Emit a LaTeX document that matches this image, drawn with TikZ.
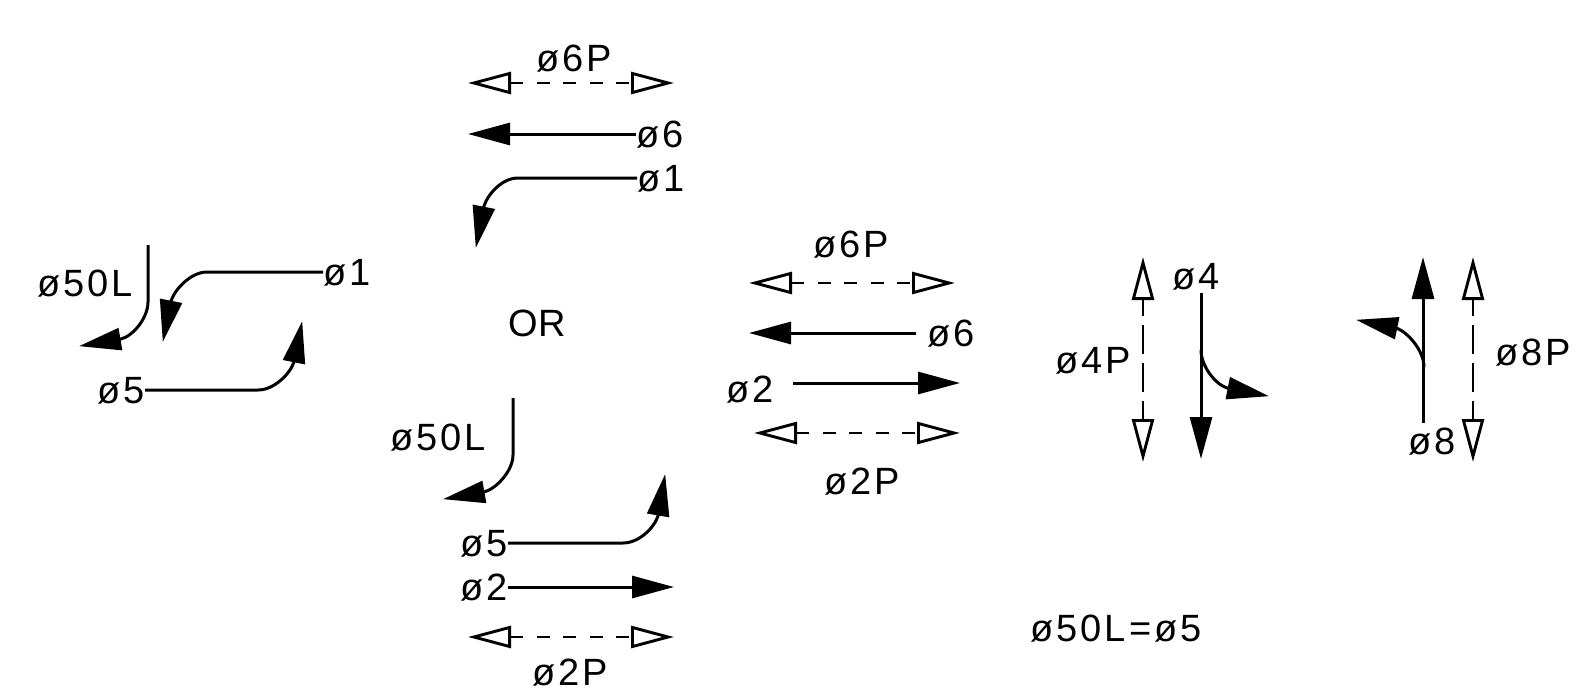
\documentclass[tikz,border=0pt]{standalone}
\usepackage{fontspec}
\setmainfont[LetterSpace=8]{Liberation Sans}
\usetikzlibrary{arrows.meta}
\tikzset{
  lbl/.style={inner sep=0pt,text height=27pt,text depth=0pt,font=\fontsize{38}{44}\selectfont},
  wire/.style={line width=3pt},
  solidtip/.style={wire,shorten >=-1pt,-{Triangle[length=42pt,width=22pt]}},
  hwalk/.style={line width=2.9pt,shorten >=-1pt,shorten <=-1pt,dash pattern=on 13pt off 13.5pt,{Triangle[open,length=43pt,width=22pt]}-{Triangle[open,length=43pt,width=22pt]}},
  vwalk/.style={line width=2.9pt,shorten >=-1pt,shorten <=-1pt,dash pattern=on 29pt off 9pt,dash phase=12pt,{Triangle[open,length=43pt,width=22pt]}-{Triangle[open,length=43pt,width=22pt]}}
}
\begin{document}
\begin{tikzpicture}[x=1pt,y=-1pt]
\useasboundingbox (0,0) rectangle (1591,693);
% --- labels
\node[lbl] (tA6P) at (574,58) {ø6P};
\node[lbl,anchor=west] (tA6) at (636,134) {ø6};
\node[lbl,anchor=west] (tA1) at (637,178) {ø1};
\node[lbl] (tB50) at (85,283) {ø50L};
\node[lbl,anchor=west] (tB1) at (323,272) {ø1};
\node[lbl,anchor=east] (tB5) at (145,390) {ø5};
\node[lbl,font=\fontsize{38}{44}\selectfont\addfontfeature{LetterSpace=0}] (tOR) at (537,323) {OR};
\node[lbl] (tC50) at (438,437) {ø50L};
\node[lbl,anchor=east] (tC5) at (508,543) {ø5};
\node[lbl,anchor=east] (tC2) at (508,587) {ø2};
\node[lbl] (tC2P) at (570,672) {ø2P};
\node[lbl] (tD6P) at (851,244) {ø6P};
\node[lbl] (tD6) at (951,333) {ø6};
\node[lbl] (tD2) at (750,389) {ø2};
\node[lbl] (tD2P) at (862,481) {ø2P};
\node[lbl] (tE4P) at (1093,360) {ø4P};
\node[lbl] (tE4) at (1196,276) {ø4};
\node[lbl] (tF8) at (1432,441) {ø8};
\node[lbl] (tF8P) at (1533,352) {ø8P};
\node[lbl] (tEq) at (1116,628) {ø50L=ø5};
% --- free ends
\coordinate (aP6l) at (469,83);  \coordinate (aP6r) at (673,83);
\coordinate (a6e) at (469,134);
\coordinate (a1a) at (518,178);  \coordinate (a1b) at (484,206);  \coordinate (a1e) at (476,247);
\coordinate (b50s) at (148,245); \coordinate (b50a) at (148,302); \coordinate (b50b) at (121,339); \coordinate (b50e) at (80,346);
\coordinate (b1a) at (207,272);  \coordinate (b1b) at (171,301);  \coordinate (b1e) at (163,341);
\coordinate (b5a) at (258,390);  \coordinate (b5b) at (294,362);  \coordinate (b5e) at (302,322);
\coordinate (c50s) at (513,398); \coordinate (c50a) at (513,455); \coordinate (c50b) at (484,492); \coordinate (c50e) at (444,499);
\coordinate (c5a) at (623,543);  \coordinate (c5b) at (658,516);  \coordinate (c5e) at (665,475);
\coordinate (c2e) at (673,587);
\coordinate (cPl) at (469,637);  \coordinate (cPr) at (673,637);
\coordinate (dP6l) at (750,283); \coordinate (dP6r) at (954,283);
\coordinate (d6s) at (916,333);  \coordinate (d6e) at (750,333);
\coordinate (d2s) at (793,383);  \coordinate (d2e) at (959,383);
\coordinate (dP2l) at (755,433); \coordinate (dP2r) at (959,433);
\coordinate (eP4t) at (1143,258); \coordinate (eP4b) at (1143,461);
\coordinate (e4s) at (1201,293); \coordinate (e4e) at (1201,458);
\coordinate (e4a) at (1201,350); \coordinate (e4b) at (1227,388); \coordinate (e4c) at (1268,396);
\coordinate (f8s) at (1423,423); \coordinate (f8e) at (1423,258);
\coordinate (f8a) at (1424,367); \coordinate (f8b) at (1396,328); \coordinate (f8c) at (1357,320);
\coordinate (fP8t) at (1473,258); \coordinate (fP8b) at (1473,461);
% --- top group
\draw[hwalk] (aP6l) -- (aP6r);
\draw[solidtip] (tA6.west) -- (a6e);
\draw[solidtip] (tA1.west) -- (a1a) .. controls +(-16,0) and +(4,-12) .. (a1b) -- (a1e);
% --- left group
\draw[solidtip] (b50s) -- (b50a) .. controls +(0,16) and +(12,-3) .. (b50b) -- (b50e);
\draw[solidtip] (tB1.west) -- (b1a) .. controls +(-16,0) and +(4,-12) .. (b1b) -- (b1e);
\draw[solidtip] (tB5.east) -- (b5a) .. controls +(16,0) and +(-4,12) .. (b5b) -- (b5e);
% --- bottom group
\draw[solidtip] (c50s) -- (c50a) .. controls +(0,16) and +(12,-3) .. (c50b) -- (c50e);
\draw[solidtip] (tC5.east) -- (c5a) .. controls +(16,0) and +(-4,12) .. (c5b) -- (c5e);
\draw[solidtip] (tC2.east) -- (c2e);
\draw[hwalk] (cPl) -- (cPr);
% --- middle group
\draw[hwalk] (dP6l) -- (dP6r);
\draw[solidtip] (d6s) -- (d6e);
\draw[solidtip] (d2s) -- (d2e);
\draw[hwalk] (dP2l) -- (dP2r);
% --- right groups
\draw[vwalk] (eP4t) -- (eP4b);
\draw[solidtip] (e4s) -- (e4e);
\draw[solidtip] (e4a) .. controls +(0,16) and +(-12,-4) .. (e4b) -- (e4c);
\draw[solidtip] (f8s) -- (f8e);
\draw[solidtip] (f8a) .. controls +(0,-16) and +(12,4) .. (f8b) -- (f8c);
\draw[vwalk] (fP8t) -- (fP8b);
\end{tikzpicture}
\end{document}
